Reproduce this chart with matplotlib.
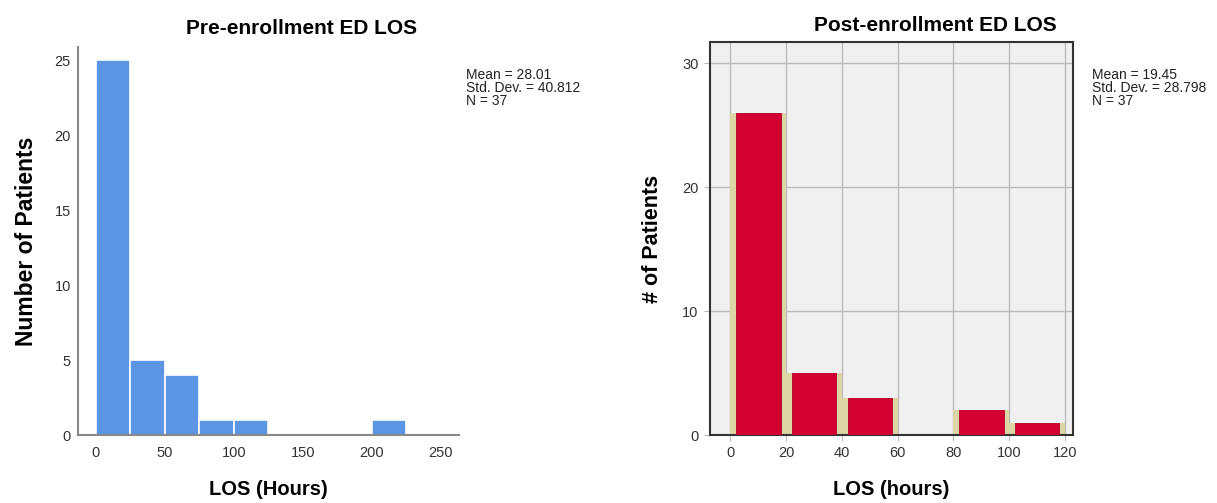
import numpy as np
import matplotlib.pyplot as plt

plt.rcParams['font.family'] = ['Liberation Sans', 'DejaVu Sans']

# pre-enrollment histogram (bin width 25 h)
pre_edges = [0, 25, 50, 75, 100, 125, 150, 175, 200, 225]
pre_counts = [25, 5, 4, 1, 1, 0, 0, 0, 1]
pre_ticks = [0, 50, 100, 150, 200, 250]
pre_stats = "Mean = 28.01\nStd. Dev. = 40.812\nN = 37"

# post-enrollment histogram (bin width 20 h)
post_edges = [0, 20, 40, 60, 80, 100, 120]
post_counts = [26, 5, 3, 0, 2, 1]
post_xticks = [0, 20, 40, 60, 80, 100, 120]
post_yticks = [0, 10, 20, 30]
post_stats = "Mean = 19.45\nStd. Dev. = 28.798\nN = 37"

fig = plt.figure(figsize=(12.17, 5.03), dpi=100)

# left panel
ax1 = fig.add_axes([0.064, 0.135, 0.313, 0.772])
w1 = np.diff(pre_edges)
ax1.bar(pre_edges[:-1], pre_counts, width=w1, align='edge',
        color='#5B95E3', edgecolor='white', linewidth=1.2)
ax1.set_xlim(-13, 263)
ax1.set_ylim(0, 25.9)
ax1.set_xticks(pre_ticks)
ax1.set_yticks([0, 5, 10, 15, 20, 25])
for s in ['top', 'right']:
    ax1.spines[s].set_visible(False)
for s in ['left', 'bottom']:
    ax1.spines[s].set_color('#888888')
    ax1.spines[s].set_linewidth(1.5)
ax1.tick_params(length=0, labelsize=10.5, labelcolor='#333333', pad=5)
ax1.tick_params(axis='x', pad=8)
fig.text(0.248, 0.944, "Pre-enrollment ED LOS", fontsize=15, fontweight='bold',
         ha='center', va='center')
ax1.set_ylabel("Number of Patients", fontsize=16.5, fontweight='bold', labelpad=12)
ax1.set_xlabel("LOS (Hours)", fontsize=14.5, fontweight='bold', labelpad=14)
fig.text(0.383, 0.865, pre_stats, fontsize=10, va='top', linespacing=0.92,
         color='#222222')

# right panel
ax2 = fig.add_axes([0.583, 0.135, 0.299, 0.781])
ax2.set_facecolor('#F0F0F0')
w2 = np.diff(post_edges)
ax2.bar(post_edges[:-1], post_counts, width=w2, align='edge',
        color='#DCD5A6', edgecolor='none', zorder=2)
ax2.bar(np.array(post_edges[:-1]) + 2, post_counts, width=w2 - 4, align='edge',
        color='#D50032', edgecolor='#B00028', linewidth=0.6, zorder=3)
ax2.set_xlim(-7.5, 123)
ax2.set_ylim(0, 31.7)
ax2.set_xticks(post_xticks)
ax2.set_yticks(post_yticks)
ax2.grid(True, color='#BBBBBB', linewidth=1, zorder=1)
ax2.set_axisbelow(True)
for s in ax2.spines.values():
    s.set_color('#333333')
    s.set_linewidth(1.5)
ax2.tick_params(length=4, color='#BBBBBB', labelsize=10.5, labelcolor='#333333', pad=4)
fig.text(0.769, 0.950, "Post-enrollment ED LOS", fontsize=15, fontweight='bold',
         ha='center', va='center')
ax2.set_ylabel("# of Patients", fontsize=15.5, fontweight='bold', labelpad=14)
ax2.set_xlabel("LOS (hours)", fontsize=14.5, fontweight='bold', labelpad=14)
fig.text(0.897, 0.865, post_stats, fontsize=10, va='top', linespacing=0.92,
         color='#222222')

fig.savefig("out.png", dpi=100)
